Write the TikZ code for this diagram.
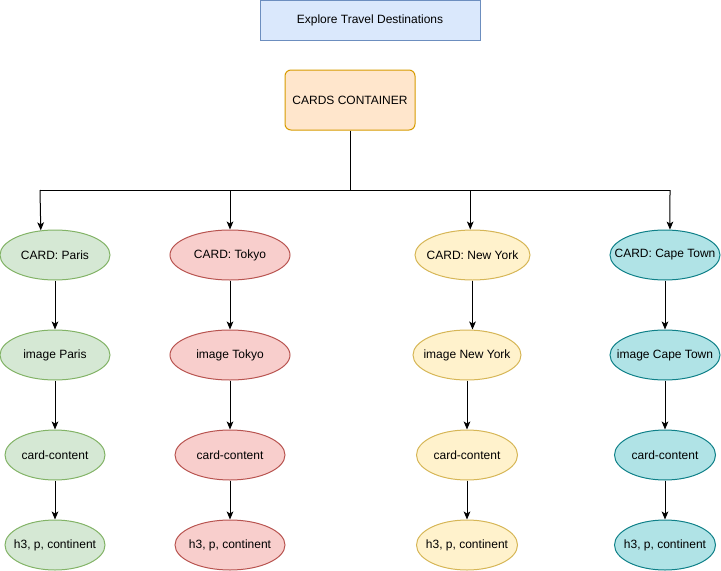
\documentclass[tikz,border=0pt]{standalone}
\usepackage{fontspec}
\setmainfont{Liberation Sans}
\usetikzlibrary{shapes,arrows.meta}
\definecolor{grnF}{HTML}{D5E8D4}\definecolor{grnD}{HTML}{82B366}
\definecolor{redF}{HTML}{F8CECC}\definecolor{redD}{HTML}{B85450}
\definecolor{ylwF}{HTML}{FFF2CC}\definecolor{ylwD}{HTML}{D6B656}
\definecolor{tealF}{HTML}{B0E3E6}\definecolor{tealD}{HTML}{0E8088}
\definecolor{bluF}{HTML}{DAE8FC}\definecolor{bluD}{HTML}{6C8EBF}
\definecolor{orgF}{HTML}{FFE6CC}\definecolor{orgD}{HTML}{D79B00}
\def\px{0.75pt}
\tikzset{
  card/.style={ellipse,draw=#1D,fill=#1F,line width=\px,inner xsep=-14pt,
    minimum height=50*\px},
  arr/.style={line width=\px,-{Stealth[length=6pt,width=5pt,inset=1.5pt]}},
  link/.style={line width=\px}
}

\begin{document}
\begin{tikzpicture}[x=\px,y=-\px,font=\fontsize{9}{11}\selectfont]
\useasboundingbox (0,0) rectangle (721,571);

\node[draw=bluD,fill=bluF,line width=\px,minimum width=220*\px,minimum height=40*\px] (title) at (370,20) {Explore Travel Destinations};

\node[draw=orgD,fill=orgF,line width=\px,rounded corners=6*\px,minimum width=130*\px,minimum height=60*\px] (cont) at (350,100) {CARDS CONTAINER};

\foreach \n/\city/\col/\xa/\xb/\wa/\wb/\wc in {1/Paris/grn/55/55/110/110/100,2/Tokyo/red/230/230/120/120/110,3/New York/ylw/472.5/467/115/108/101,4/Cape Town/teal/665/665/110/110/101}
{
\node[card=\col,minimum width=\wa*\px] (C\n r1) at (\xa,255) {CARD: \city};
\node[card=\col,minimum width=\wb*\px] (C\n r2) at (\xb,355) {image \city};
\node[card=\col,minimum width=\wc*\px] (C\n r3) at (\xb,455) {card-content};
\node[card=\col,minimum width=\wc*\px] (C\n r4) at (\xb,545) {h3, p, continent};

\draw[arr] (C\n r1) -- (C\n r1 |- C\n r2.north);
\draw[arr] (C\n r2) -- (C\n r3);
\draw[arr] (C\n r3) -- (C\n r4);
}

\coordinate (bus) at (350,190);
\coordinate (busL) at (40,190);
\coordinate (busR) at (670,190);
\draw[link] (cont) -- (bus);
\draw[link] (busL) -- (busR);

\draw[arr] (busL) -- (C1r1.120);
\draw[arr] (C2r1 |- bus) -- (C2r1);
\draw[arr] (C3r1.95 |- bus) -- (C3r1.95);
\draw[arr] (busR) -- (C4r1.79);

\end{tikzpicture}
\end{document}
